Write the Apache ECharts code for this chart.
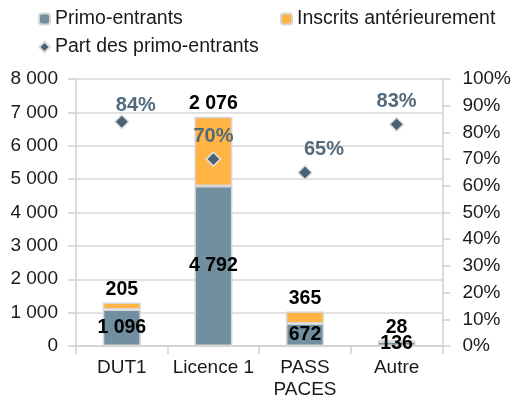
<!DOCTYPE html>
<html><head><meta charset="utf-8">
<script src="https://cdn.jsdelivr.net/npm/echarts@6/dist/echarts.min.js"></script>
<style>html,body{margin:0;padding:0;background:#fff}#c{width:514px;height:403px}</style>
</head><body><div id="c"></div>
<script>
const categories = ['DUT1', 'Licence 1', 'PASS\nPACES', 'Autre'];
const primoEntrants = [1096, 4792, 672, 136];
const inscritsAnterieurement = [205, 2076, 365, 28];
const partPrimo = [84, 70, 65, 83];
const leftTicks = [0, 1000, 2000, 3000, 4000, 5000, 6000, 7000, 8000];
const rightTicks = [0, 10, 20, 30, 40, 50, 60, 70, 80, 90, 100];
const pctLabelOffsets = [[14, 7], [0, 0], [19, 0], [0, 0]];

const fmt = v => String(v).replace(/\B(?=(\d{3})+(?!\d))/g, ' ');
const font = 'Liberation Sans, Arial, sans-serif';
const legendText = { fontSize: 19.5, color: '#1a1a1a', fontFamily: font };
const chart = echarts.init(document.getElementById('c'));
chart.setOption({
  animation: false,
  textStyle: { fontFamily: font },
  legend: [
    { left: 33, top: 4, itemWidth: 11, itemHeight: 11, itemGap: 5, textStyle: legendText, data: ['Primo-entrants'] },
    { left: 275, top: 4, itemWidth: 11, itemHeight: 11, textStyle: legendText, data: ['Inscrits antérieurement'] },
    { left: 33, top: 32, itemWidth: 11, itemHeight: 11, textStyle: legendText, data: ['Part des primo-entrants'] }
  ],
  grid: { left: 76, right: 68, top: 79, bottom: 57 },
  xAxis: {
    type: 'category', data: categories,
    axisLine: { lineStyle: { color: '#d0d0d0', width: 1.5 } },
    axisTick: { show: true, length: 8, lineStyle: { color: '#d0d0d0', width: 1.5 } },
    axisLabel: { interval: 0, fontSize: 19, color: '#1a1a1a', margin: 11, lineHeight: 22, fontFamily: font }
  },
  yAxis: [
    {
      type: 'value', min: leftTicks[0], max: leftTicks[leftTicks.length - 1], interval: 1000,
      axisLine: { show: true, lineStyle: { color: '#d0d0d0', width: 1.5 } },
      axisTick: { show: true, length: 8, lineStyle: { color: '#d0d0d0', width: 1.5 } },
      splitLine: { lineStyle: { color: '#d9d9d9', width: 1.5 } },
      axisLabel: { fontSize: 19, color: '#1a1a1a', margin: 18, formatter: v => fmt(v), fontFamily: font }
    },
    {
      type: 'value', min: rightTicks[0], max: rightTicks[rightTicks.length - 1], interval: 10,
      axisLine: { show: true, lineStyle: { color: '#d0d0d0', width: 1.5 } },
      axisTick: { show: true, length: 8, lineStyle: { color: '#d0d0d0', width: 1.5 } },
      splitLine: { show: false },
      axisLabel: { fontSize: 19, color: '#1a1a1a', margin: 20, formatter: v => v + '%', fontFamily: font }
    }
  ],
  series: [
    {
      name: 'Primo-entrants', type: 'bar', stack: 's', barWidth: 38,
      itemStyle: { color: '#718fa0', borderColor: '#d6d6d6', borderWidth: 1.5 },
      label: { show: true, position: 'inside', fontSize: 19.5, fontWeight: 'bold', color: '#000', formatter: p => fmt(p.value), fontFamily: font },
      data: primoEntrants
    },
    {
      name: 'Inscrits antérieurement', type: 'bar', stack: 's', barWidth: 38,
      itemStyle: { color: '#ffb443', borderColor: '#d6d6d6', borderWidth: 1.5 },
      label: { show: true, position: 'top', distance: 3, fontSize: 19.5, fontWeight: 'bold', color: '#000', formatter: p => fmt(p.value), fontFamily: font },
      data: inscritsAnterieurement
    },
    {
      name: 'Part des primo-entrants', type: 'scatter', yAxisIndex: 1,
      symbol: 'diamond', symbolSize: 14,
      itemStyle: { color: '#4a6274', borderColor: '#e0e0e0', borderWidth: 1.5, opacity: 1 },
      label: { show: true, position: 'top', distance: 5, fontSize: 20, fontWeight: 'bold', color: '#526a7c', formatter: p => p.value + '%', fontFamily: font },
      data: partPrimo.map((v, i) => ({ value: v, label: { offset: pctLabelOffsets[i] } }))
    }
  ]
});
</script></body></html>
